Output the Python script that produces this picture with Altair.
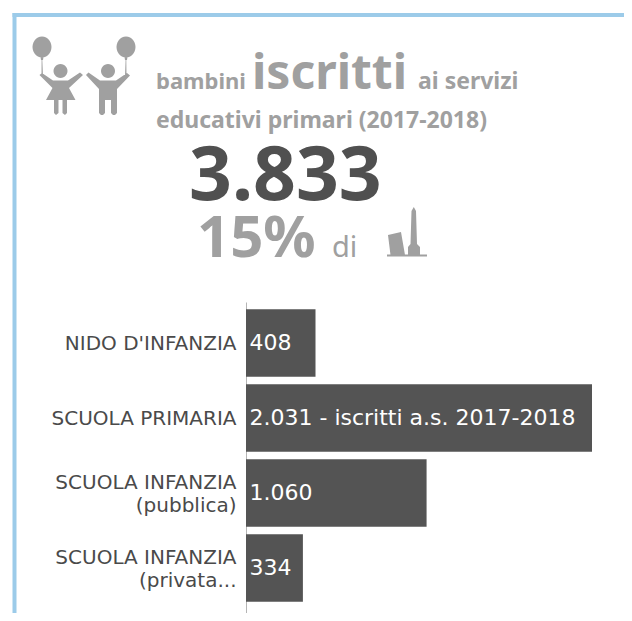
import altair as alt
import numpy as np
import pandas as pd

categories = ["NIDO D'INFANZIA", "SCUOLA PRIMARIA", "SCUOLA INFANZIA\n(pubblica)", "SCUOLA INFANZIA\n(privata..."]
values = [408, 2031, 1060, 334]
bar_labels = ["408", "2.031 - iscritti a.s. 2017-2018", "1.060", "334"]

FONT = "Noto Sans"
AXFONT = "DejaVu Sans"
DARK = "#545454"
GREY = "#a0a0a0"
BLUE = "#9ccbe9"
OX, OY = 246, 302  # page position of the plot origin


def txt(s, x, y, size, color=GREY, weight="bold"):
    return alt.Chart(pd.DataFrame({"t": [s]})).mark_text(
        font=FONT, fontSize=size, fontWeight=weight, color=color, align="left", baseline="alphabetic"
    ).encode(text="t:N", x=alt.value(x - OX), y=alt.value(y - OY))


def circle(cx, cy, rx, ry):
    a = np.linspace(0, 2 * np.pi, 28, endpoint=False)
    return [(cx + rx * np.cos(t), cy + ry * np.sin(t)) for t in a]


def icon(polys, cx, cy, half, color=GREY):
    d = ""
    for p in polys:
        pts = [f"{(x - cx) / half:.4f},{(y - cy) / half:.4f}" for x, y in p]
        d += "M" + "L".join(pts) + "Z"
    return alt.Chart(pd.DataFrame({"i": [0]})).mark_point(
        shape=d, filled=True, fill=color, opacity=1, strokeWidth=0, size=(2 * half) ** 2
    ).encode(x=alt.value(cx - OX), y=alt.value(cy - OY))


kids = [
    circle(42, 47, 9.5, 10.5), [(40.5, 57), (43.5, 57), (43, 60), (41, 60)], [(41.6, 60), (42.3, 60), (43, 76), (41.5, 76)],
    circle(126, 47, 9.5, 10.5), [(124.5, 57), (127.5, 57), (127, 60), (125, 60)], [(125.6, 60), (126.3, 60), (126.5, 76), (125, 76)],
    circle(60.5, 71, 7, 7), circle(108, 71, 7, 7),
    [(39.5, 75), (42, 73), (53, 80.5), (68, 80.5), (80, 72.5), (83, 75), (69, 88), (75.5, 100), (46, 100), (52.5, 88)],
    [(54, 100), (58.5, 100), (58.5, 113), (56, 115), (54, 113)],
    [(62.5, 100), (67, 100), (67, 113), (65, 115), (62.5, 113)],
    [(86, 75), (88.5, 72.5), (100, 80.5), (116, 80.5), (127, 73), (130, 75.5), (117, 89), (117, 113), (115, 115), (113, 115), (111, 113), (111, 100), (105, 100), (105, 113), (103, 115), (101, 115), (99, 113), (99, 89)],
]
towers = [
    [(387, 254.5), (427, 254.5), (427, 256.5), (387, 256.5)],
    [(388, 235), (401, 232), (405, 255), (390.5, 255)],
    [(413.8, 207), (416, 211), (417, 244), (420, 247), (420, 255), (408, 255), (408, 247), (410.5, 244), (411.5, 211)],
]

df = pd.DataFrame({"cat": categories, "val": values, "lab": bar_labels})

y = alt.Y(
    "cat:N", sort=categories, title=None,
    scale=alt.Scale(paddingInner=0.1, paddingOuter=0.123, align=0.39),
    axis=alt.Axis(
        ticks=False, labelPadding=10, labelFont=AXFONT, labelFontSize=20, labelColor="#4a4a4a",
        labelExpr="split(datum.label, '\\n')", labelLineHeight=23, labelLimit=230,
        labelOffset={"condition": {"test": "indexof(datum.value, '\\n') >= 0", "value": -9.5}, "value": 1},
        domainColor="#b5b5b5", domainWidth=1, grid=False,
    ),
)

bars = alt.Chart(df).mark_bar(color=DARK, size=67.5).encode(
    x=alt.X("val:Q", scale=alt.Scale(domain=[0, 2031], nice=False), axis=None), y=y
)
labels = alt.Chart(df).mark_text(
    font=AXFONT, fontSize=22, color="white", align="left", baseline="middle"
).encode(x=alt.value(3.5), y=y, text="lab:N")


def rect(x1, x2, y1, y2):
    return alt.Chart(pd.DataFrame({"i": [0]})).mark_rect(color=BLUE).encode(
        x=alt.value(x1 - OX), x2=alt.value(x2 - OX), y=alt.value(y1 - OY), y2=alt.value(y2 - OY)
    )


chart = alt.layer(
    rect(12.5, 16.5, 13, 613), rect(12.5, 624, 13, 17),
    bars, labels,
    txt("bambini", 156, 89, 22), txt("iscritti", 252, 89, 48), txt("ai servizi", 418, 89, 23),
    txt("educativi primari (2017-2018)", 156, 128, 23),
    txt("3.833", 189, 200, 75, "#505050"), txt("15%", 197, 257, 58), txt("di", 332, 257, 29, weight="normal"),
    icon(kids, 85, 76, 48), icon(towers, 407, 232, 26),
).properties(
    width=346, height=311,
    padding={"left": 238, "top": 294, "right": 32, "bottom": 0},
    autosize=alt.AutoSizeParams(type="none"),
).configure_view(stroke=None)

chart.save("out.html", embed_options={"renderer": "svg", "actions": False})
